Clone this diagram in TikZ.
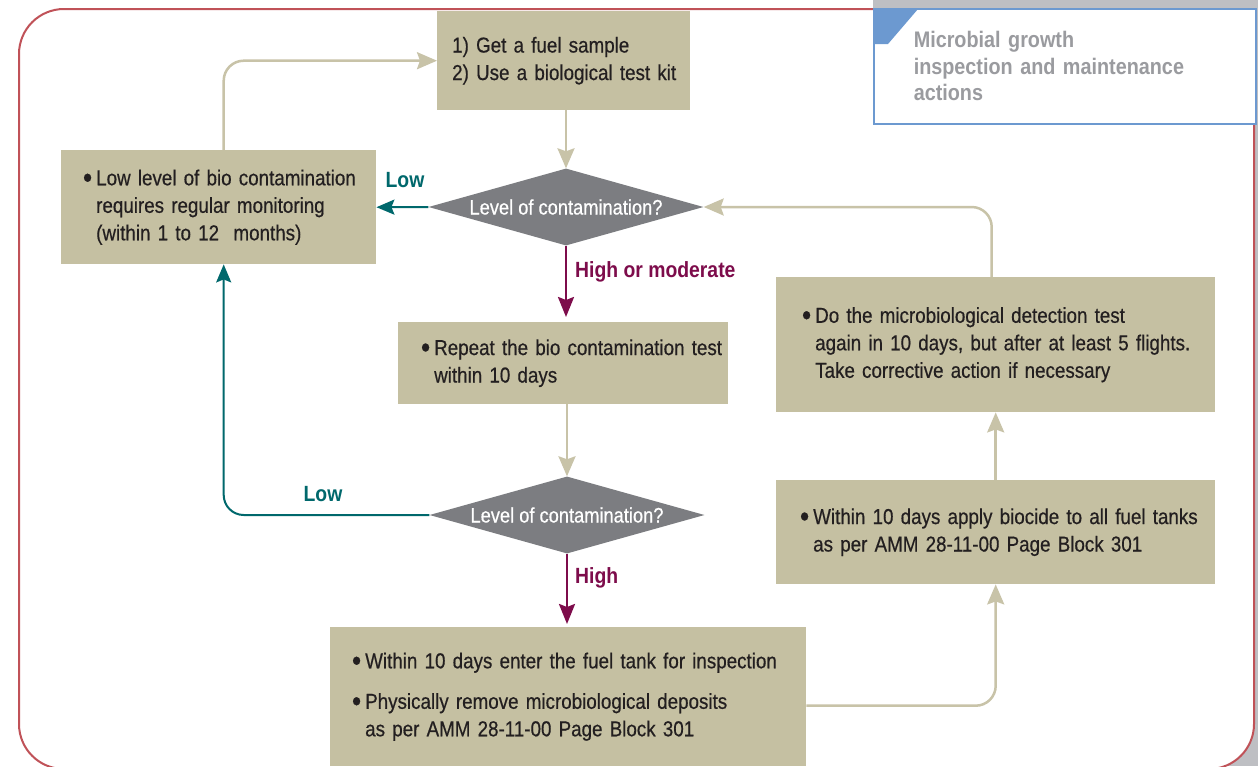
\documentclass[tikz,border=0pt]{standalone}
\usepackage{fontspec}
\usepackage{graphicx}
\setmainfont[FakeStretch=0.88]{Liberation Sans}
\newfontfamily\mediumface[FakeStretch=0.87, FakeBold=0.5]{Liberation Sans}
\usetikzlibrary{shapes.geometric, arrows.meta}

\definecolor{boxtan}{RGB}{197,192,162}
\definecolor{arrowtan}{RGB}{200,195,168}
\definecolor{decgrey}{RGB}{124,125,129}
\definecolor{lowteal}{RGB}{0,104,108}
\definecolor{highmaroon}{RGB}{125,12,75}
\definecolor{framered}{RGB}{192,82,88}
\definecolor{titleblue}{RGB}{108,153,208}
\definecolor{shadowgrey}{RGB}{190,191,195}
\definecolor{titlegrey}{RGB}{154,155,159}
\definecolor{inkdark}{RGB}{35,31,32}

\newcommand{\flowfont}{\mediumface\fontsize{21.6}{27.5}\selectfont}
\newcommand{\decfont}{\mediumface\fontsize{21}{24}\selectfont}
\newcommand{\labelfont}{\fontsize{22}{26}\selectfont\bfseries}
\newcommand{\titlefont}{\fontsize{22.5}{26.5}\selectfont\bfseries}
\newcommand{\bul}{\llap{\raisebox{-2.5pt}{\scalebox{1.4}{\textbullet}}\hspace{4pt}}}

\begin{document}
\begin{tikzpicture}[x=1pt, y=-1pt,
  actbox/.style={fill=boxtan, text=inkdark, font=\flowfont, align=left,
    anchor=north west, inner ysep=0pt},
  decision/.style={diamond, fill=decgrey, text=white, font=\decfont,
    inner sep=0pt, shape aspect=3.6, minimum width=275pt, minimum height=77pt},
  flow/.style={color=arrowtan, line width=2.5pt, rounded corners=20pt,
    -{Stealth[length=20pt, width=17pt, inset=3pt]}},
  lowflow/.style={color=lowteal, line width=2pt, rounded corners=20pt,
    -{Stealth[length=18pt, width=15pt, inset=3pt]}},
  highflow/.style={color=highmaroon, line width=2.5pt,
    -{Stealth[length=20pt, width=16pt, inset=3pt]}},
  lbl/.style={font=\labelfont, inner sep=0pt}]

  \useasboundingbox[fill=white] (0,0) rectangle (1258,766);

  % frame
  \fill[shadowgrey] (873,0) rectangle (1258,766);
  \draw[framered, line width=2pt, fill=white, rounded corners=45pt]
    (19,9) rectangle (1254,769);

  \node[draw=titleblue, line width=1.5pt, fill=white, anchor=north west,
    minimum height=115pt, text width=302pt, inner xsep=40pt, align=left,
    text=titlegrey, font=\titlefont] (title) at (873,8)
    {Microbial growth\\inspection and maintenance\\actions};
  \fill[titleblue] (874,9) -- (918,9) -- (888,44) -- (874,44) -- cycle;

  % steps
  \node[actbox, text width=223pt, inner xsep=15pt, minimum height=99pt] (sample)
    at (437,11) {\mbox{1) Get a fuel sample}\\\mbox{2) Use a biological test kit}};
  \node[decision] (level1) at (566,207) {Level of contamination?};
  \node[actbox, text width=245pt, inner xsep=35pt, minimum height=114pt] (monitor)
    at (61,150) {\mbox{\bul Low level of bio contamination}\\
    \mbox{requires regular monitoring}\\\mbox{(within 1 to 12\ \ months)}};
  \node[actbox, text width=258pt, inner xsep=36pt, minimum height=82pt] (retest)
    at (398,322) {\mbox{\bul Repeat the bio contamination test}\\\mbox{within 10 days}};
  \node[decision] (level2) at (567,515) {Level of contamination?};
  \node[actbox, text width=406pt, inner xsep=35pt, minimum height=139pt] (inspect)
    at (330,627) {\mbox{\bul Within 10 days enter the fuel tank for inspection}\\[13pt]
    \mbox{\bul Physically remove microbiological deposits}\\
    \mbox{as per AMM 28-11-00 Page Block 301}};
  \node[actbox, text width=365pt, inner xsep=37pt, minimum height=104pt] (biocide)
    at (776,480) {\mbox{\bul Within 10 days apply biocide to all fuel tanks}\\
    \mbox{as per AMM 28-11-00 Page Block 301}};
  \node[actbox, text width=361pt, inner xsep=39pt, minimum height=135pt] (detect)
    at (776,277) {\mbox{\bul Do the microbiological detection test}\\
    \mbox{again in 10 days, but after at least 5 flights.}\\
    \mbox{Take corrective action if necessary}};

  % labels
  \node[lbl, text=lowteal] (low1) at (405,180) {Low};
  \node[lbl, text=highmaroon, anchor=west] (high1) at (575,272) {High or moderate};
  \node[lbl, text=lowteal] (low2) at (323,494) {Low};
  \node[lbl, text=highmaroon, anchor=west] (high2) at (575,578) {High};

  % connectors
  \draw[flow] (level1.north |- sample.south) -- (level1.north);
  \draw[lowflow] (level1.west) -- (monitor.east);
  \draw[flow] ([xshift=5pt]monitor.north) |- (sample.west);
  \draw[highflow] (level1.south) -- ([yshift=5pt]level1.south |- retest.north);
  \draw[flow] (level2.north |- retest.south) -- (level2.north);
  \draw[lowflow] (level2.west) -| ([xshift=5pt]monitor.south);
  \draw[highflow] (level2.south) -- ([yshift=3pt]level2.south |- inspect.north);
  \draw[flow] ([yshift=-9pt]inspect.east) -| (biocide.south);
  \draw[flow] (biocide.north) -- (detect.south);
  \draw[flow] ([xshift=-4pt]detect.north) |- (level1.east);
\end{tikzpicture}
\end{document}
